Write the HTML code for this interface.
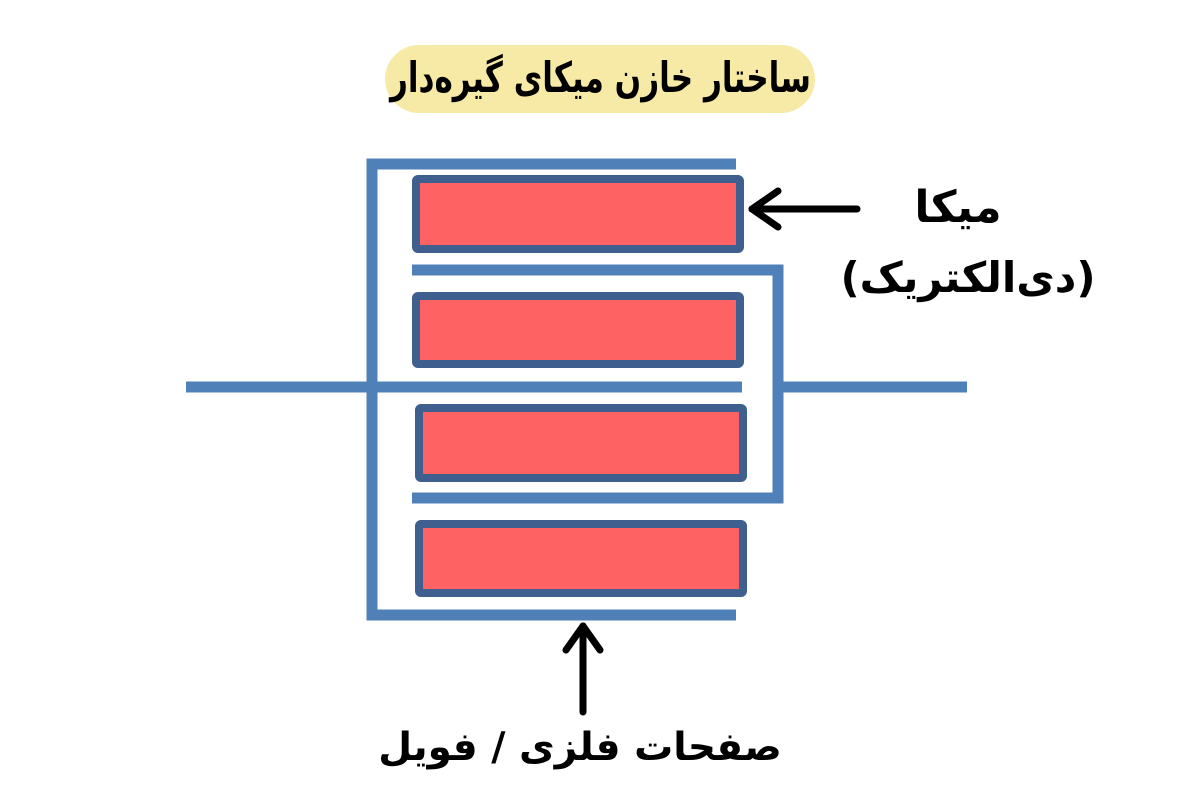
<!DOCTYPE html>
<html><head><meta charset="utf-8"><style>
html,body{margin:0;padding:0;background:#fff;width:1200px;height:800px;overflow:hidden}
.t{position:absolute;font-family:"DejaVu Sans",sans-serif;font-weight:bold;color:#000;direction:rtl;white-space:nowrap;text-align:center}
</style></head><body>
<div style="position:absolute;left:385px;top:45px;width:430px;height:68px;border-radius:34px;background:#f6eaa6"></div>
<div style="position:absolute;left:300px;top:48px;width:600px;text-align:center"><span class="t" style="position:static;display:inline-block;font-size:42px;line-height:60px;transform:scaleX(0.74)">ساختار خازن میکای گیره‌دار</span></div>
<svg width="1200" height="800" style="position:absolute;left:0;top:0">
<g fill="none" stroke="#5080b8" stroke-width="11">
<polyline points="736,164 372,164 372,615 736,615"/>
<polyline points="412,270 778,270 778,498 412,498"/>
<line x1="186" y1="387" x2="742" y2="387"/>
<line x1="778" y1="387" x2="967" y2="387"/>
</g>
<g fill="#ff6262" stroke="#3f5f8e" stroke-width="8">
<rect x="416" y="179" width="324" height="70" rx="2"/>
<rect x="416" y="296" width="324" height="68" rx="2"/>
<rect x="419" y="408" width="324" height="70" rx="2"/>
<rect x="419" y="524" width="324" height="69" rx="2"/>
</g>
<g stroke="#000" stroke-width="7" fill="none" stroke-linecap="round" stroke-linejoin="round">
<line x1="857" y1="209" x2="752" y2="209"/>
<polyline points="778,191 752,209 778,227"/>
<line x1="583" y1="712" x2="583" y2="626"/>
<polyline points="566,650 583,626 600,650"/>
</g>
</svg>
<div class="t" style="left:858px;top:180px;width:200px;font-size:44px;line-height:56px">میکا</div>
<div class="t" style="left:818px;top:250px;width:300px;font-size:42px;line-height:56px">(دی‌الکتریک)</div>
<div class="t" style="left:330px;top:720px;width:500px;font-size:39px;line-height:56px">صفحات فلزی / فویل</div>
</body></html>
